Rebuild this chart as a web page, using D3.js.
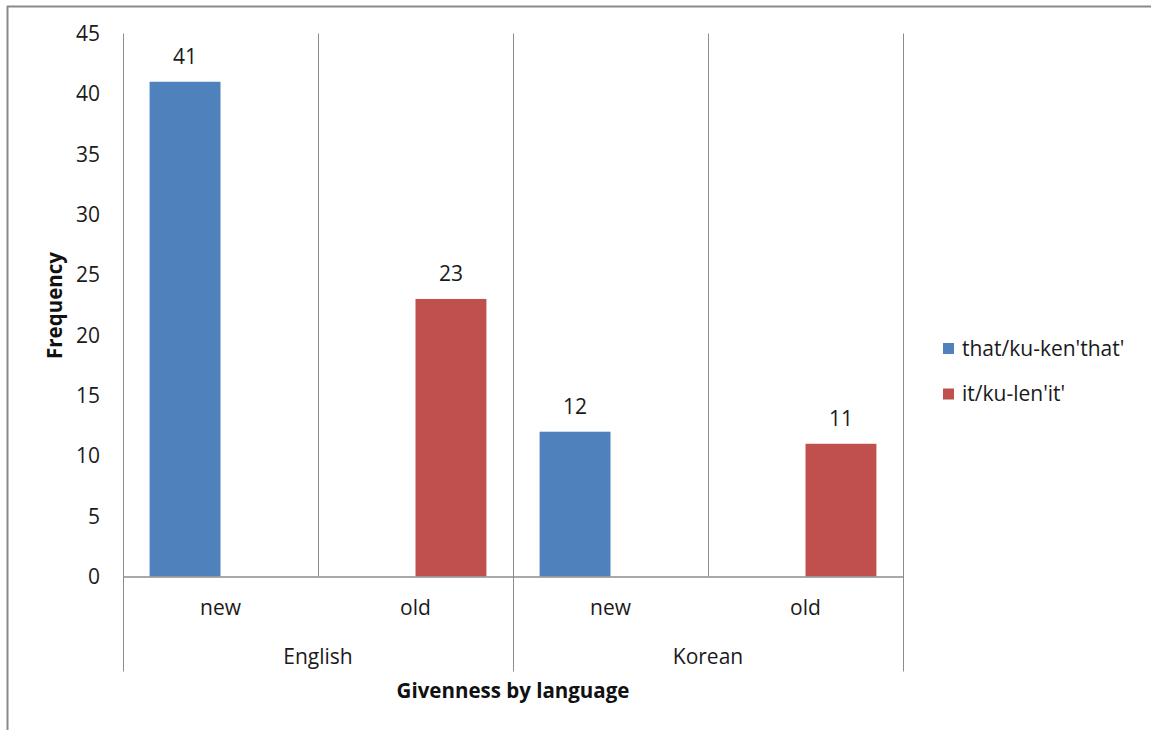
<!DOCTYPE html>
<html>
<head>
<meta charset="utf-8">
<script src="https://cdn.jsdelivr.net/npm/d3@7"></script>
<style>
  html, body { margin: 0; padding: 0; background: #fff; }
  svg { display: block; font-family: "Open Sans", "Liberation Sans", sans-serif; }
</style>
</head>
<body>
<svg id="chart" width="1151" height="730"></svg>
<script>
// Grouped categories: language (outer) and givenness (inner)
const languages = ["English", "Korean"];
const givenness = ["new", "old"];
const seriesNames = ["that/ku-ken'that'", "it/ku-len'it'"];
const seriesColors = ["#4F81BD", "#C0504D"];
// Frequencies per (language, givenness) slot, one array per series; null = no bar
const thatValues = [41, null, 12, null];
const itValues = [null, 23, null, 11];
const yTicks = [0, 5, 10, 15, 20, 25, 30, 35, 40, 45];

const svg = d3.select("#chart");
const gridColor = "#8c8c8c";
const textColor = "#1a1a1a";
const fs = 21;
const fsBold = 20.5;

// Outer frame (top and left edges visible)
svg.append("line").attr("x1", 7).attr("x2", 1151).attr("y1", 6.5).attr("y2", 6.5)
  .attr("stroke", "#8a8a8a").attr("stroke-width", 2);
svg.append("line").attr("x1", 7.5).attr("x2", 7.5).attr("y1", 6).attr("y2", 730)
  .attr("stroke", "#8a8a8a").attr("stroke-width", 2);

const plot = { left: 123, right: 903, top: 33.5, bottom: 576.5 };

const slots = [];
languages.forEach(l => givenness.forEach(g => slots.push(l + "|" + g)));

const x = d3.scaleBand().domain(slots).range([plot.left, plot.right]).padding(0);
const xSeries = d3.scaleBand().domain(seriesNames).range([0, x.bandwidth()])
  .paddingInner(0).paddingOuter(0.375);
const y = d3.scaleLinear().domain([0, 45]).range([plot.bottom, plot.top]);

// Y tick labels
svg.append("g").selectAll("text").data(yTicks).join("text")
  .attr("x", 100).attr("y", d => y(d)).attr("dy", "0.35em")
  .attr("text-anchor", "end").attr("font-size", fs).attr("fill", textColor)
  .text(d => d);

// Vertical separators: inner ones stop at the axis, language ones run through the labels
const boundaries = d3.range(slots.length + 1).map(i => plot.left + i * x.step());
svg.append("g").selectAll("line").data(boundaries).join("line")
  .attr("x1", d => d + 0.5).attr("x2", d => d + 0.5)
  .attr("y1", plot.top)
  .attr("y2", (d, i) => (i % givenness.length === 0) ? 671.5 : plot.bottom)
  .attr("stroke", gridColor).attr("stroke-width", 1);

// Bars
const seriesData = [thatValues, itValues];
seriesData.forEach((vals, si) => {
  const rows = vals.map((v, i) => ({ slot: slots[i], v })).filter(d => d.v != null);
  const g = svg.append("g");
  g.selectAll("rect").data(rows).join("rect")
    .attr("x", d => x(d.slot) + xSeries(seriesNames[si]))
    .attr("y", d => y(d.v))
    .attr("width", xSeries.bandwidth())
    .attr("height", d => y(0) - y(d.v))
    .attr("fill", seriesColors[si]);
  g.selectAll("text").data(rows).join("text")
    .attr("x", d => x(d.slot) + xSeries(seriesNames[si]) + xSeries.bandwidth() / 2)
    .attr("y", d => y(d.v) - 18)
    .attr("text-anchor", "middle").attr("font-size", fs).attr("fill", textColor)
    .text(d => d.v);
});

// Baseline
svg.append("line").attr("x1", plot.left).attr("x2", plot.right + 1)
  .attr("y1", plot.bottom + 0.5).attr("y2", plot.bottom + 0.5)
  .attr("stroke", gridColor).attr("stroke-width", 1.5);

// Inner category labels
svg.append("g").selectAll("text").data(slots).join("text")
  .attr("x", d => x(d) + x.bandwidth() / 2).attr("y", 615)
  .attr("text-anchor", "middle").attr("font-size", fs).attr("fill", textColor)
  .text(d => d.split("|")[1]);

// Outer category labels
svg.append("g").selectAll("text").data(languages).join("text")
  .attr("x", (d, i) => x(slots[i * givenness.length]) + x.step())
  .attr("y", 664)
  .attr("text-anchor", "middle").attr("font-size", fs).attr("fill", textColor)
  .text(d => d);

// Axis titles
svg.append("text").attr("x", (plot.left + plot.right) / 2).attr("y", 698)
  .attr("text-anchor", "middle").attr("font-size", fsBold).attr("font-weight", "bold")
  .attr("fill", "#111").text("Givenness by language");
svg.append("text")
  .attr("transform", `translate(62,${(253 + 358) / 2}) rotate(-90)`)
  .attr("text-anchor", "middle").attr("font-size", fsBold).attr("font-weight", "bold")
  .attr("fill", "#111").text("Frequency");

// Legend
const legend = svg.append("g").selectAll("g").data(seriesNames).join("g")
  .attr("transform", (d, i) => `translate(943,${343 + i * 45.5})`);
legend.append("rect").attr("width", 11).attr("height", 11)
  .attr("fill", (d, i) => seriesColors[i]);
legend.append("text").attr("x", 19).attr("y", 5.5).attr("dy", "0.35em")
  .attr("font-size", fs).attr("fill", textColor).text(d => d);
</script>
</body>
</html>
